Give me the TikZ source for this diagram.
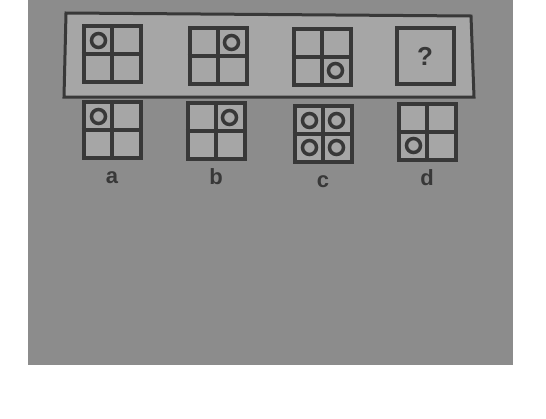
\documentclass[tikz,border=0pt]{standalone}
\usepackage{fontspec}
\setmainfont{Liberation Sans}
\usetikzlibrary{positioning}
\definecolor{PaperGray}{RGB}{140,140,140}
\definecolor{PanelGray}{RGB}{166,166,166}
\definecolor{InkGray}{RGB}{56,56,56}
\tikzset{
  gridbox/.style={draw=InkGray,line width=4pt,fill=PanelGray,
    minimum width=57pt,minimum height=56pt,inner sep=0pt},
  ring/.style={draw=InkGray,line width=3.5pt},
  optlabel/.style={font=\fontsize{22}{22}\selectfont\bfseries,text=InkGray,
    inner sep=0pt,text height=16pt,text depth=0pt}
}

\begin{document}
\begin{tikzpicture}[x=1pt,y=-1pt]
  \useasboundingbox (0,0) rectangle (546,418);
  \fill[PaperGray] (28,0) rectangle (513,365);
  % the question strip
  \draw[InkGray,line width=3pt,fill=PanelGray]
    (66,13) -- (471,16) -- (474,97) -- (64,97) -- cycle;
  \foreach \name/\x/\y in {q1/112/54,q2/218/56,q3/322/57,
                           oa/112/130,ob/216/131,oc/323/134,od/427/132}
  {
    \node[gridbox] (\name) at (\x,\y) {};
    \draw[InkGray,line width=4pt] (\name.north) -- (\name.south)
                                 (\name.west) -- (\name.east);
  }
  \node[gridbox,font=\fontsize{26}{26}\selectfont\bfseries,text=InkGray]
    (q4) at (425,56) {?};
  % circles, by cell
  \foreach \name/\dx/\dy in {q1/-1/-1,q2/1/-1,q3/1/1,oa/-1/-1,ob/1/-1,
      oc/-1/-1,oc/1/-1,oc/-1/1,oc/1/1,od/-1/1}
    \draw[ring] ([shift={(\dx*13.5,\dy*13.5)}]\name.center) circle (7pt);
  % answer letters
  \node[optlabel,below=7pt of oa] (la) {a};
  \node[optlabel,below=7pt of ob] (lb) {b};
  \node[optlabel,below=7pt of oc] (lc) {c};
  \node[optlabel,below=7pt of od] (ld) {d};
\end{tikzpicture}
\end{document}
